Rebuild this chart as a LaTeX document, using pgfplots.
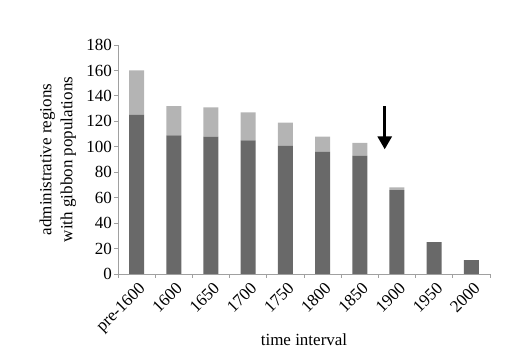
\documentclass[border=0pt]{standalone}
\usepackage{pgfplots}
\pgfplotsset{compat=1.18}
\usepackage{fontspec}
\setmainfont{Liberation Serif}
\usetikzlibrary{arrows.meta}
\definecolor{darkbar}{RGB}{105,105,105}
\definecolor{lightbar}{RGB}{180,180,180}
\definecolor{axgray}{RGB}{160,160,160}
\begin{document}
\fontsize{17}{20}\selectfont
\begin{tikzpicture}[x=1pt,y=1pt]
\path[use as bounding box] (-118,-81) rectangle (404,274);
\begin{axis}[
  at={(0,0)}, anchor=south west,
  scale only axis, width=372pt, height=229pt,
  ybar stacked, bar width=15pt,
  xmin=-0.5, xmax=9.5, ymin=0, ymax=180,
  axis x line*=bottom, axis y line*=left,
  axis line style={axgray, line width=0.8pt},
  every tick/.style={axgray, line width=0.8pt},
  xtick={0,...,9},
  xticklabels={pre-1600,1600,1650,1700,1750,1800,1850,1900,1950,2000},
  major x tick style={draw=none},
  minor xtick={-0.5,0.5,...,9.5},
  minor tick length=4pt,
  ytick={0,20,...,180},
  major tick length=4pt,
  tick align=outside,
  /pgf/number format/assume math mode=true,
  tick label style={font=\fontsize{17}{20}\selectfont},
  label style={font=\fontsize{17}{21}\selectfont},
  xticklabel style={rotate=45, anchor=north east, inner sep=1pt, xshift=0pt, yshift=-2pt},
  yticklabel style={inner sep=2pt},
  ylabel={administrative regions\\with gibbon populations},
  ylabel style={align=center, at={(axis description cs:0,0.5)}, yshift=36pt},
  xlabel={time interval},
  xlabel style={yshift=9pt},
]
\addplot[fill=darkbar, draw=none] coordinates {(0,125) (1,109) (2,108) (3,105) (4,101) (5,96) (6,93) (7,66) (8,25) (9,11)};
\addplot[fill=lightbar, draw=none] coordinates {(0,35) (1,23) (2,23) (3,22) (4,18) (5,12) (6,10) (7,2) (8,0) (9,0)};
\draw[black, line width=3pt, -{Triangle[width=14pt,length=13pt]}] (axis cs:6.67,132) -- (axis cs:6.67,98);
\end{axis}
\end{tikzpicture}
\end{document}
